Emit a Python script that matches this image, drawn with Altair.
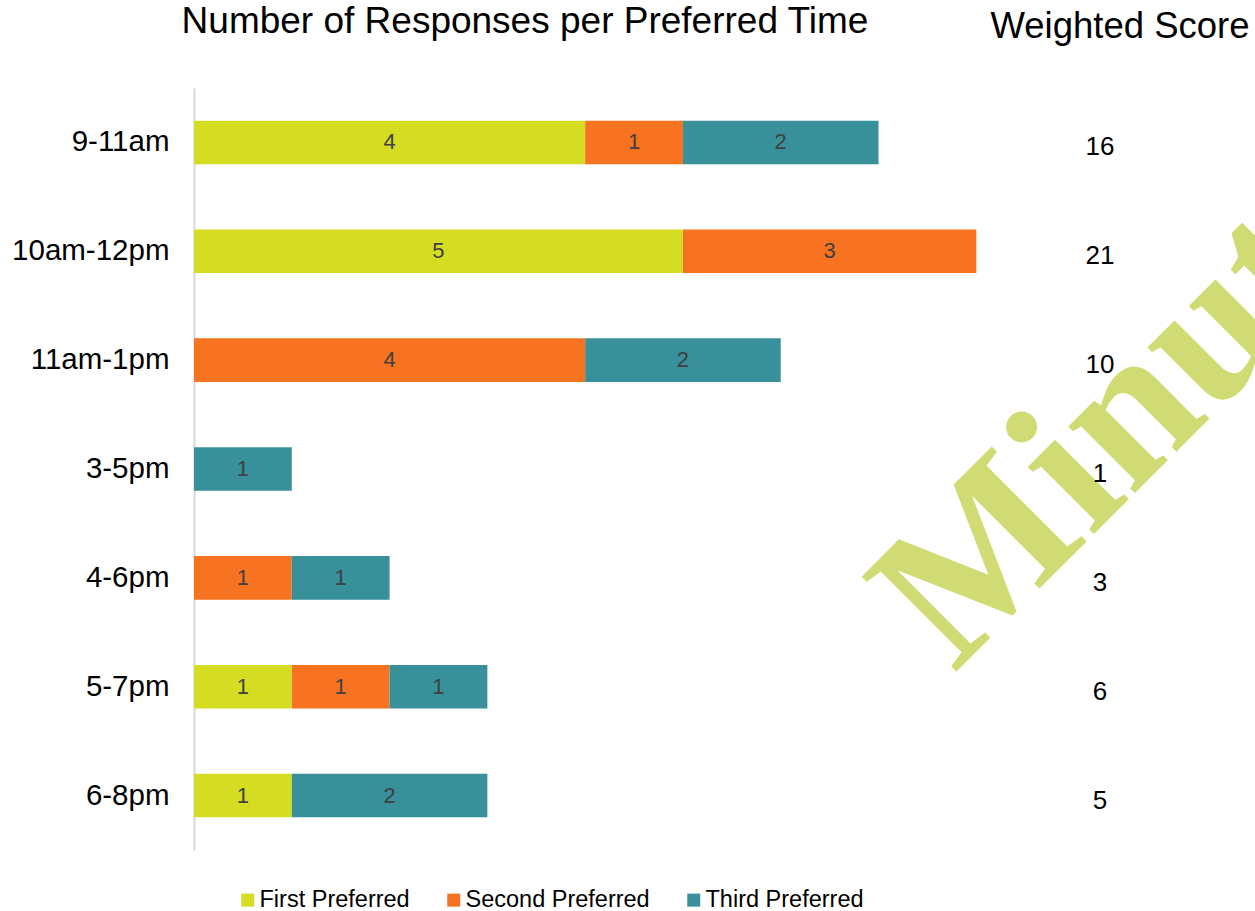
import altair as alt
import pandas as pd

times = ["9-11am", "10am-12pm", "11am-1pm", "3-5pm", "4-6pm", "5-7pm", "6-8pm"]
first_pref = [4, 5, 0, 0, 0, 1, 1]
second_pref = [1, 3, 4, 0, 1, 1, 0]
third_pref = [2, 0, 2, 1, 1, 1, 2]
weighted = [16, 21, 10, 1, 3, 6, 5]
series_names = ["First Preferred", "Second Preferred", "Third Preferred"]
series_colors = ["#d5dd23", "#f77221", "#37909a"]
title_text = "Number of Responses per Preferred Time"
score_title = "Weighted Score"
watermark = "Minutes"

rows = []
for i, t in enumerate(times):
    for k, vals in enumerate([first_pref, second_pref, third_pref]):
        if vals[i] > 0:
            rows.append({"time": t, "series": series_names[k], "order": k, "count": vals[i]})
df = pd.DataFrame(rows)
score_df = pd.DataFrame({"time": times, "score": weighted})

FONT = "Liberation Sans"
XMAX = 10.85

yenc = alt.Y("time:N", sort=times,
             scale=alt.Scale(paddingInner=0.6, paddingOuter=0.3),
             axis=alt.Axis(title=None, ticks=False, labelPadding=25, labelFontSize=29.5,
                           labelFont=FONT, labelColor="#000000", domainColor="#d9d9d9",
                           domainWidth=2, grid=False))

base = alt.Chart(df).transform_stack(
    stack="count", groupby=["time"], sort=[alt.SortField("order")], as_=["x0", "x1"]
).transform_calculate(mid="(datum.x0 + datum.x1) / 2")

xscale = alt.Scale(domain=[0, XMAX], nice=False, zero=True)

bars = base.mark_bar().encode(
    x=alt.X("x0:Q", scale=xscale, axis=None),
    x2="x1:Q",
    y=yenc,
    color=alt.Color("series:N", sort=series_names,
                    scale=alt.Scale(domain=series_names, range=series_colors),
                    legend=alt.Legend(title=None, orient="none", direction="horizontal",
                                      legendX=42, legendY=800, symbolType="square",
                                      symbolSize=169, symbolStrokeWidth=0, labelFontSize=23.5,
                                      labelFont=FONT, labelColor="#000000", labelOffset=0,
                                      labelLimit=400, columnPadding=32, padding=0)),
    order=alt.Order("order:Q"),
)

labels = base.mark_text(font=FONT, fontSize=22, color="#404040", baseline="middle").encode(
    x=alt.X("mid:Q", scale=xscale),
    y=alt.Y("time:N", sort=times),
    text="count:Q",
)

wm = alt.Chart(pd.DataFrame({"t": [watermark]})).mark_text(
    font="Liberation Serif", fontSize=205, fontWeight="bold", color="#d0dc73", angle=315,
    align="left", baseline="alphabetic"
).encode(x=alt.value(760), y=alt.value(586), text="t:N")

scores = alt.Chart(score_df).mark_text(font=FONT, fontSize=26, color="#000000",
                                       baseline="middle", dy=5).encode(
    x=alt.value(906),
    y=alt.Y("time:N", sort=times),
    text="score:Q",
)

title = alt.Chart(pd.DataFrame({"t": [title_text]})).mark_text(
    font=FONT, fontSize=37, color="#000000", align="center", baseline="alphabetic"
).encode(x=alt.value(331), y=alt.value(-55), text="t:N")

score_head = alt.Chart(pd.DataFrame({"t": [score_title]})).mark_text(
    font=FONT, fontSize=36.5, color="#000000", align="center", baseline="alphabetic"
).encode(x=alt.value(926), y=alt.value(-50), text="t:N")

chart = alt.layer(bars, labels, wm, scores, title, score_head).properties(
    width=1061, height=762,
    background="white",
    autosize=alt.AutoSizeParams(type="none"),
    padding={"left": 194, "top": 88, "right": 0, "bottom": 61},
).configure_view(strokeWidth=0, stroke=None)

chart.save("out.html", embed_options={"renderer": "svg", "actions": False})
